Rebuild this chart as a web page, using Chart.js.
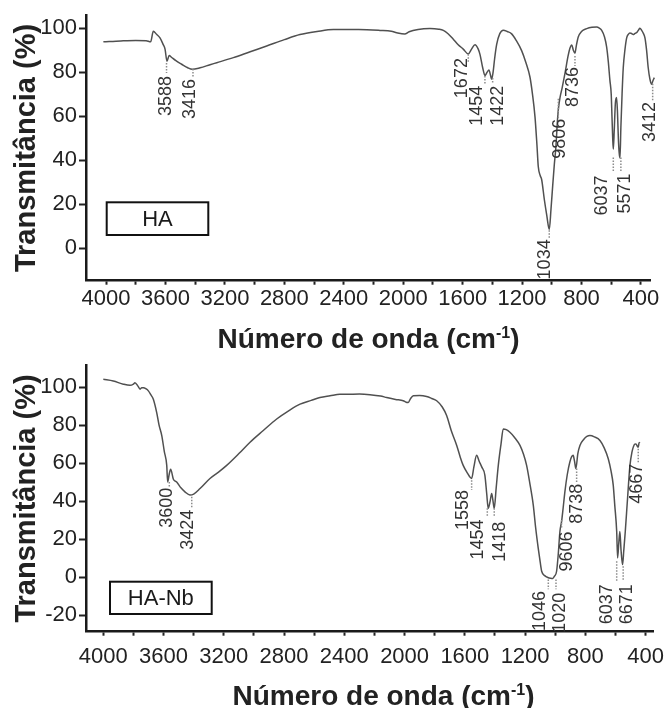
<!DOCTYPE html>
<html>
<head>
<meta charset="utf-8">
<script src="https://cdn.jsdelivr.net/npm/chart.js@4.4.1/dist/chart.umd.min.js"></script>
<style>
  body { margin: 0; background: #fff; width: 669px; height: 708px; overflow: hidden; position: relative; }
  .panel { position: absolute; left: 0; width: 669px; }
  #top { top: 0; height: 356px; }
  #bottom { top: 350px; height: 364px; }
</style>
</head>
<body>
<div class="panel" id="top"><canvas id="haChart"></canvas></div>
<div class="panel" id="bottom"><canvas id="hanbChart"></canvas></div>
<script>
const FONT = '"Liberation Sans", Arial, Helvetica, sans-serif';

// tick values (labels shown every 400 cm-1)
const waveTicks = [400, 600, 800, 1000, 1200, 1400, 1600, 1800, 2000, 2200, 2400, 2600, 2800, 3000, 3200, 3400, 3600, 3800, 4000];
const haYTicks = [0, 20, 40, 60, 80, 100];
const hanbYTicks = [-20, 0, 20, 40, 60, 80, 100];

// HA spectrum
const haWave = [4018, 3900, 3800, 3730, 3700, 3682, 3660, 3637, 3615, 3603, 3590, 3575, 3560, 3530, 3491, 3450, 3420, 3367, 3300, 3255,
  3143, 3030, 2919, 2800, 2695, 2580, 2470, 2300, 2156, 2080, 2044, 1990, 1960, 1900, 1820, 1760, 1730, 1700, 1663, 1630,
  1596, 1562, 1540, 1517, 1495, 1483, 1465, 1450, 1435, 1423, 1412, 1405, 1395, 1385, 1371, 1350, 1326, 1300, 1270, 1240,
  1203, 1175, 1147, 1130, 1113, 1100, 1091, 1078, 1068, 1050, 1034, 1017, 1005, 994, 983, 972, 962, 956, 945, 930,
  911, 890, 878, 866, 855, 844, 835, 822, 800, 765, 730, 698, 680, 664, 645, 631, 620, 609, 600, 595,
  590, 586, 580, 572, 564, 558, 552, 546, 541, 535, 527, 519, 508, 496, 485, 474, 463, 452, 440, 425,
  415, 407, 395, 385, 373, 362, 351, 340, 328, 320, 310];
const haTrans = [93.8, 94.2, 94.4, 94.3, 93.8, 98.6, 97.2, 95.6, 92.5, 90.5, 85.0, 87.6, 86.8, 85.2, 83.6, 82.0, 81.3, 82.0, 83.4, 84.3,
  86.6, 89.3, 91.9, 94.8, 97.1, 98.5, 99.4, 99.4, 99.0, 98.6, 97.9, 97.3, 98.4, 99.4, 99.8, 99.5, 99.0, 97.6, 95.0, 92.5,
  90.5, 88.3, 90.5, 92.5, 90.5, 88.0, 82.0, 78.5, 80.0, 81.0, 78.5, 76.8, 80.0, 86.0, 92.6, 97.5, 99.1, 98.5, 97.4, 94.5,
  89.8, 84.5, 77.8, 70.0, 59.7, 47.0, 37.1, 33.0, 31.1, 22.0, 15.0, 8.5, 18.0, 28.3, 38.0, 46.4, 58.0, 63.0, 68.3, 73.0,
  79.6, 87.5, 90.9, 92.4, 90.0, 88.6, 92.0, 96.0, 98.5, 99.8, 100.4, 100.5, 100.0, 99.0, 96.0, 91.5, 85.0, 76.4, 70.0, 60.0,
  50.0, 45.0, 53.0, 66.0, 68.5, 62.0, 50.0, 43.0, 41.0, 55.0, 70.0, 82.0, 90.0, 95.6, 97.2, 97.8, 97.6, 97.1, 97.6, 98.3,
  99.3, 100.0, 99.0, 97.8, 95.6, 90.0, 82.0, 77.0, 74.5, 76.0, 77.5];

// HA-Nb spectrum
const hanbWave = [4000, 3934, 3867, 3823, 3800, 3790, 3770, 3756, 3745, 3734, 3715, 3701, 3685, 3668, 3646, 3630, 3612, 3595, 3579, 3573,
  3563, 3553, 3535, 3513, 3485, 3458, 3425, 3400, 3358, 3292, 3240, 3181, 3100, 3026, 2940, 2849, 2770, 2694, 2620, 2562,
  2495, 2429, 2385, 2300, 2230, 2160, 2119, 2060, 2009, 1990, 1976, 1960, 1942, 1900, 1854, 1820, 1787, 1750, 1721, 1690,
  1654, 1630, 1611, 1585, 1555, 1540, 1522, 1505, 1488, 1467, 1455, 1445, 1432, 1422, 1413, 1405, 1392, 1378, 1360, 1345,
  1325, 1301, 1270, 1234, 1210, 1190, 1170, 1146, 1130, 1113, 1100, 1090, 1070, 1046, 1030, 1017, 1005, 991, 980, 969,
  958, 948, 936, 920, 903, 890, 881, 872, 863, 850, 836, 810, 790, 770, 740, 703, 675, 648, 630, 615,
  605, 592, 586, 578, 571, 563, 553, 545, 535, 520, 504, 490, 482, 472, 464, 456, 449, 444, 438];
const hanbTrans = [104.1, 103.2, 101.5, 100.9, 101.6, 102.3, 100.5, 98.9, 99.7, 99.7, 99.0, 98.0, 96.0, 93.6, 86.7, 80.0, 74.5, 66.0, 58.8, 50.1,
  54.0, 56.8, 51.5, 50.1, 47.0, 44.9, 43.2, 43.7, 46.6, 51.9, 55.0, 58.8, 65.0, 71.0, 77.0, 83.2, 87.5, 91.0, 93.0, 94.5,
  95.4, 96.2, 96.2, 96.3, 96.0, 95.3, 94.5, 93.5, 92.8, 92.0, 91.9, 94.0, 95.4, 95.5, 95.0, 94.0, 92.8, 89.5, 85.0, 77.0,
  69.3, 63.0, 58.8, 55.0, 51.9, 58.0, 64.1, 61.0, 58.0, 53.6, 44.0, 36.2, 40.0, 44.0, 40.0, 36.2, 47.0, 58.8, 70.0, 78.0,
  77.6, 76.2, 73.5, 69.3, 64.5, 58.8, 50.0, 38.0, 26.0, 15.3, 8.0, 3.1, 0.8, -0.3, -0.6, -0.7, 0.5, 3.1, 12.0, 24.0,
  29.2, 36.0, 44.9, 54.0, 60.6, 63.5, 64.1, 61.0, 57.1, 65.0, 69.3, 72.5, 74.0, 74.5, 73.8, 71.9, 68.0, 62.3, 56.0, 48.4,
  38.0, 24.0, 10.1, 18.0, 24.0, 14.0, 6.6, 14.0, 24.0, 41.4, 58.8, 66.0, 68.4, 70.0, 70.1, 69.0, 68.4, 70.5, 71.0];

// peak marks: [label, leader wavenumber, leader from %, leader to %, label wavenumber, label top %]
const haPeaks = [
  ['3588', 3593, 84.2, 79.6, 3596, 78.3],
  ['3416', 3415, 81.4, 77.4, 3435, 76.9],
  ['1672', 1562, 88.2, 84.2, 1606, 86.4],
  ['1454', 1450, 78.3, 74.7, 1506, 73.8],
  ['1422', 1398, 77.4, 74.7, 1360, 73.8],
  ['9806', 956, 67.9, 59.3, 945, 58.8],
  ['8736', 844, 87.3, 82.8, 860, 82.4],
  ['1034', 1017, 8.1, 4.5, 1046, 4.0],
  ['6037', 586, 41.2, 34.4, 664, 33.0],
  ['5571', 535, 41.2, 34.4, 508, 33.9],
  ['3412', 321, 74.7, 67.0, 339, 66.5]
];
const hanbPeaks = [
  ['3600', 3562, 50.1, 47.5, 3579, 47.0],
  ['3424', 3413, 42.3, 36.2, 3436, 35.5],
  ['1558', 1555, 51.0, 45.8, 1611, 45.9],
  ['1454', 1451, 36.2, 31.9, 1511, 30.3],
  ['1418', 1405, 36.2, 31.9, 1367, 29.2],
  ['9606', 958, 30.1, 25.7, 924, 24.0],
  ['8738', 858, 57.1, 50.1, 858, 49.2],
  ['1046', 1046, -1.2, -6.4, 1102, -7.3],
  ['1020', 995, -1.2, -6.4, 969, -8.2],
  ['6037', 592, 8.4, -2.1, 659, -3.7],
  ['6671', 549, 5.7, -2.1, 526, -3.7],
  ['4667', 449, 67.5, 59.7, 460, 59.7]
];

// dotted leaders, rotated peak labels, sample name box and x title with superscript
const peakMarks = {
  id: 'peakMarks',
  afterDatasetsDraw(chart, args, opts) {
    const { ctx, chartArea, scales: { x, y } } = chart;
    ctx.save();
    opts.peaks.forEach(([text, lw, from, to, tw, top]) => {
      const lx = x.getPixelForValue(lw);
      ctx.strokeStyle = '#8c8c8c';
      ctx.lineWidth = 1.5;
      ctx.setLineDash([1.5, 1.5]);
      ctx.beginPath();
      ctx.moveTo(lx, y.getPixelForValue(from));
      ctx.lineTo(lx, y.getPixelForValue(to));
      ctx.stroke();

      ctx.save();
      ctx.translate(x.getPixelForValue(tw), y.getPixelForValue(top));
      ctx.rotate(-Math.PI / 2);
      ctx.fillStyle = '#333';
      ctx.font = '18px ' + FONT;
      ctx.textAlign = 'right';
      ctx.textBaseline = 'middle';
      ctx.fillText(text, 0, 0);
      ctx.restore();
    });

    const b = opts.box;
    const bx = chartArea.left + b.dx;
    const by = chartArea.bottom - b.dy - b.h;
    ctx.setLineDash([]);
    ctx.lineWidth = 2;
    ctx.strokeStyle = '#111';
    ctx.strokeRect(bx, by, b.w, b.h);
    ctx.fillStyle = '#1a1a1a';
    ctx.font = '22px ' + FONT;
    ctx.textAlign = 'center';
    ctx.textBaseline = 'middle';
    ctx.fillText(b.text, bx + b.w / 2, by + b.h / 2 + 1);

    // x axis title: "Número de onda (cm" + superscript "-1" + ")"
    const t = opts.title;
    const main = 'bold 28px ' + FONT;
    const sup = 'bold 16px ' + FONT;
    ctx.textAlign = 'left';
    ctx.textBaseline = 'alphabetic';
    ctx.fillStyle = '#222';
    ctx.font = main;
    const wA = ctx.measureText('Número de onda (cm').width;
    const wB = ctx.measureText(')').width;
    ctx.font = sup;
    const wS = ctx.measureText('-1').width;
    let tx = t.cx - (wA + wS + wB) / 2;
    ctx.font = main;
    ctx.fillText('Número de onda (cm', tx, t.baseline);
    tx += wA;
    ctx.font = sup;
    ctx.fillText('-1', tx, t.baseline - 10);
    tx += wS;
    ctx.font = main;
    ctx.fillText(')', tx, t.baseline);
    ctx.restore();
  }
};

function makeChart(id, wave, trans, cfg) {
  return new Chart(document.getElementById(id), {
    type: 'line',
    data: {
      datasets: [{
        data: wave.map((w, i) => ({ x: w, y: trans[i] })),
        borderColor: '#505050',
        borderWidth: 1.5,
        pointRadius: 0,
        cubicInterpolationMode: 'monotone',
        clip: false
      }]
    },
    options: {
      animation: false,
      responsive: true,
      maintainAspectRatio: false,
      devicePixelRatio: 1,
      layout: { padding: { top: cfg.padTop, right: cfg.padRight, left: 0, bottom: 0 } },
      plugins: {
        legend: { display: false },
        tooltip: { enabled: false },
        peakMarks: { peaks: cfg.peaks, box: cfg.box, title: cfg.title }
      },
      scales: {
        x: {
          type: 'linear',
          reverse: true,
          min: cfg.xMin,
          max: cfg.xMax,
          afterBuildTicks: axis => { axis.ticks = waveTicks.map(v => ({ value: v })); },
          afterFit: scale => { scale.height = cfg.xHeight; },
          ticks: {
            autoSkip: false,
            maxRotation: 0,
            padding: cfg.xTickPad,
            color: '#222',
            font: { family: FONT, size: 22 },
            callback: v => (v % 400 === 0 ? String(v) : '')
          },
          grid: { drawOnChartArea: false, drawTicks: true, tickLength: 4, tickWidth: 2, tickColor: '#222' },
          border: { display: true, color: '#1a1a1a', width: 2.5 },
          title: { display: false }
        },
        y: {
          min: cfg.yMin,
          max: cfg.yMax,
          afterBuildTicks: axis => { axis.ticks = cfg.yTicks.map(v => ({ value: v })); },
          afterFit: scale => { scale.width = 86; },
          ticks: {
            padding: 2,
            color: '#222',
            font: { family: FONT, size: 22 }
          },
          grid: { drawOnChartArea: false, drawTicks: true, tickLength: 7, tickWidth: 2, tickColor: '#222' },
          border: { display: true, color: '#1a1a1a', width: 2.5 },
          title: {
            display: true,
            text: 'Transmitância (%)',
            color: '#222',
            font: { family: FONT, size: 29, weight: 'bold' },
            padding: { top: 9.5, bottom: 0 }
          }
        }
      }
    },
    plugins: [peakMarks]
  });
}

makeChart('haChart', haWave, haTrans, {
  xMin: 339, xMax: 4135, yMin: -14.8, yMax: 105.9, yTicks: haYTicks,
  padTop: 14, padRight: 19, xHeight: 75.3, xTickPad: 1,
  peaks: haPeaks,
  box: { text: 'HA', dx: 20.7, dy: 45.7, w: 101.6, h: 32.7 },
  title: { cx: 368.5, baseline: 348 }
});

makeChart('hanbChart', hanbWave, hanbTrans, {
  xMin: 351, xMax: 4115, yMin: -28.7, yMax: 111.5, yTicks: hanbYTicks,
  padTop: 13, padRight: 16, xHeight: 82.3, xTickPad: 8,
  peaks: hanbPeaks,
  box: { text: 'HA-Nb', dx: 24, dy: 17.7, w: 101.7, h: 32.3 },
  title: { cx: 383.5, baseline: 355 }
});
</script>
</body>
</html>
